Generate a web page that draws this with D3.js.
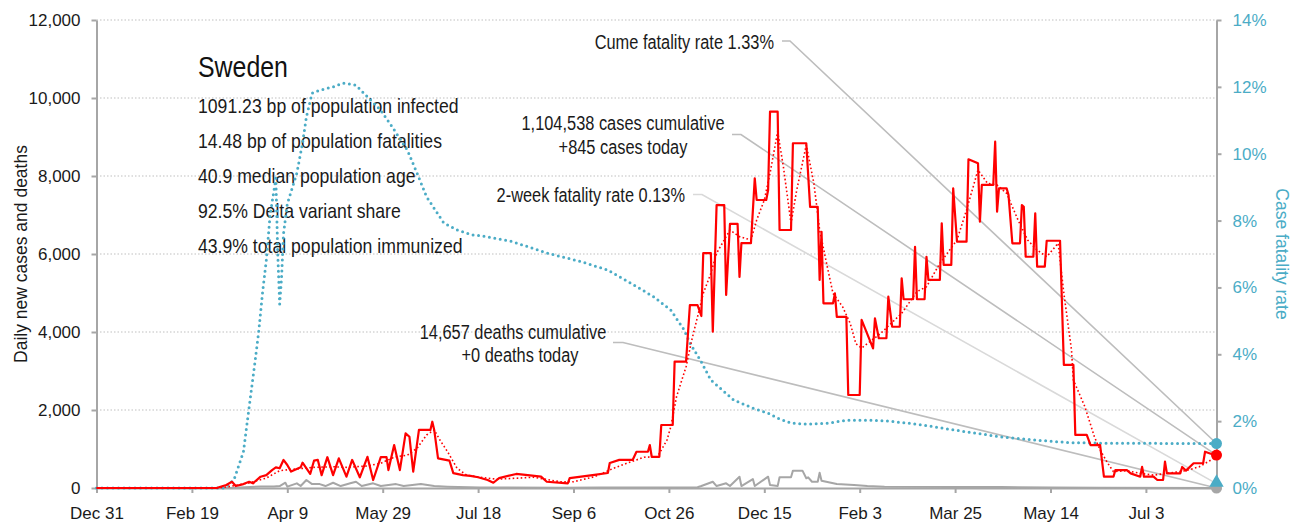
<!DOCTYPE html>
<html>
<head>
<meta charset="utf-8">
<script src="https://cdn.jsdelivr.net/npm/d3@7"></script>
<style>
  html, body { margin: 0; padding: 0; background: #ffffff; }
  svg { display: block; font-family: 'Liberation Sans', Arial, sans-serif; }
</style>
</head>
<body>
<svg id="chart" width="1301" height="527"></svg>
<script>
// ---- Data: Sweden, Dec 31 2019 – Aug 9 2021 ----
const country = "Sweden";
const statLines = [
  "1091.23 bp of population infected",
  "14.48 bp of population fatalities",
  "40.9 median population age",
  "92.5% Delta variant share",
  "43.9% total population immunized"
];

const xTickDates = ["2019-12-31","2020-02-19","2020-04-09","2020-05-29","2020-07-18","2020-09-06",
                    "2020-10-26","2020-12-15","2021-02-03","2021-03-25","2021-05-14","2021-07-03"];
const leftTicks = [0, 2000, 4000, 6000, 8000, 10000, 12000];
const rightTicks = [0, 2, 4, 6, 8, 10, 12, 14];

// Daily new cases
const dailyCases = [
  ["2019-12-31",0],["2020-03-03",0],["2020-03-05",33],["2020-03-08",77],["2020-03-11",160],["2020-03-13",50],
  ["2020-03-17",100],["2020-03-20",160],["2020-03-22",120],["2020-03-26",290],["2020-03-29",330],["2020-04-01",460],
  ["2020-04-03",530],["2020-04-05",505],["2020-04-07",720],["2020-04-09",590],["2020-04-11",420],["2020-04-16",530],
  ["2020-04-17",650],["2020-04-21",360],["2020-04-23",700],["2020-04-25",720],["2020-04-27",330],["2020-04-30",790],
  ["2020-05-03",330],["2020-05-06",760],["2020-05-10",290],["2020-05-13",720],["2020-05-17",275],["2020-05-21",800],
  ["2020-05-24",205],["2020-05-28",790],["2020-05-31",790],["2020-06-01",460],["2020-06-04",1100],["2020-06-07",460],
  ["2020-06-10",1400],["2020-06-12",1315],["2020-06-14",420],["2020-06-17",1490],["2020-06-23",1490],["2020-06-24",1700],
  ["2020-06-25",1490],["2020-06-27",760],["2020-07-01",720],["2020-07-03",700],["2020-07-05",380],["2020-07-10",330],
  ["2020-07-14",310],["2020-07-18",275],["2020-07-23",205],["2020-07-26",135],["2020-07-29",255],["2020-08-07",360],
  ["2020-08-13",330],["2020-08-20",290],["2020-08-23",160],["2020-09-03",120],["2020-09-04",255],["2020-09-10",290],
  ["2020-09-16",330],["2020-09-24",385],["2020-09-25",640],["2020-09-30",720],["2020-10-07",720],["2020-10-09",930],
  ["2020-10-15",930],["2020-10-16",1100],["2020-10-17",800],["2020-10-21",800],["2020-10-22",1615],["2020-10-28",1615],
  ["2020-10-29",3240],["2020-11-04",3240],["2020-11-06",4690],["2020-11-10",4690],["2020-11-12",4410],["2020-11-13",6020],
  ["2020-11-17",6020],["2020-11-18",4010],["2020-11-20",7255],["2020-11-24",7255],["2020-11-25",4950],["2020-11-27",6770],
  ["2020-12-01",6770],["2020-12-02",5410],["2020-12-03",6280],["2020-12-08",6280],["2020-12-10",7940],["2020-12-11",7385],
  ["2020-12-16",7385],["2020-12-17",7640],["2020-12-18",9650],["2020-12-22",9650],["2020-12-23",6615],["2020-12-29",6615],
  ["2020-12-30",8840],["2021-01-06",8840],["2021-01-08",7210],["2021-01-12",7210],["2021-01-13",5335],["2021-01-14",6570],
  ["2021-01-15",4735],["2021-01-20",4735],["2021-01-21",4990],["2021-01-22",4390],["2021-01-27",4390],["2021-01-28",2385],
  ["2021-02-03",2385],["2021-02-04",4310],["2021-02-10",3580],["2021-02-11",4350],["2021-02-13",3840],["2021-02-17",3840],
  ["2021-02-18",4905],["2021-02-20",4135],["2021-02-24",4135],["2021-02-25",5375],["2021-02-26",4840],["2021-03-03",4840],
  ["2021-03-04",6185],["2021-03-05",4840],["2021-03-09",4840],["2021-03-10",5930],["2021-03-11",5335],["2021-03-17",5335],
  ["2021-03-18",6785],["2021-03-19",5720],["2021-03-23",5720],["2021-03-24",7685],["2021-03-26",6315],["2021-03-31",6315],
  ["2021-04-01",8430],["2021-04-06",8325],["2021-04-07",6830],["2021-04-08",7770],["2021-04-14",7770],["2021-04-15",8880],
  ["2021-04-16",7085],["2021-04-17",7685],["2021-04-21",7685],["2021-04-22",7510],["2021-04-24",6275],["2021-04-28",6275],
  ["2021-04-29",7255],["2021-04-30",7210],["2021-05-01",5930],["2021-05-05",5930],["2021-05-06",7045],["2021-05-07",5675],
  ["2021-05-11",5675],["2021-05-12",6340],["2021-05-19",6340],["2021-05-21",3155],["2021-05-26",3155],["2021-05-27",1360],
  ["2021-06-02",1360],["2021-06-04",1100],["2021-06-09",1100],["2021-06-11",290],["2021-06-16",290],["2021-06-17",460],
  ["2021-06-23",460],["2021-06-25",375],["2021-06-30",290],["2021-07-01",540],["2021-07-02",290],["2021-07-07",290],
  ["2021-07-09",205],["2021-07-12",205],["2021-07-13",675],["2021-07-14",375],["2021-07-21",375],["2021-07-22",540],
  ["2021-07-24",445],["2021-07-28",635],["2021-08-02",635],["2021-08-03",930],["2021-08-06",880],["2021-08-09",845]
];

// 7-day average of new cases
const avgCases = [
  ["2019-12-31",0],["2020-03-03",0],["2020-03-08",25],["2020-03-20",130],["2020-03-29",255],["2020-04-05",445],
  ["2020-04-12",480],["2020-04-23",530],["2020-05-03",545],["2020-05-10",530],["2020-05-21",565],["2020-05-28",635],
  ["2020-06-04",790],["2020-06-11",845],["2020-06-16",1020],["2020-06-21",1360],["2020-06-25",1490],["2020-06-28",1230],
  ["2020-07-02",930],["2020-07-07",505],["2020-07-12",330],["2020-07-19",275],["2020-07-28",225],["2020-08-16",275],
  ["2020-08-30",160],["2020-09-06",160],["2020-09-17",290],["2020-09-27",505],["2020-10-04",635],["2020-10-13",790],
  ["2020-10-20",800],["2020-10-25",1230],["2020-10-27",1570],["2020-10-30",2340],["2020-11-04",3110],["2020-11-07",3795],
  ["2020-11-10",4390],["2020-11-13",4990],["2020-11-17",5505],["2020-11-20",6020],["2020-11-24",6360],["2020-11-27",6615],
  ["2020-12-02",6445],["2020-12-08",6360],["2020-12-11",6870],["2020-12-15",7385],["2020-12-18",8070],["2020-12-22",9135],
  ["2020-12-25",8240],["2020-12-29",6785],["2021-01-01",7640],["2021-01-06",8795],["2021-01-10",7810],["2021-01-13",6615],
  ["2021-01-17",5675],["2021-01-20",4990],["2021-01-25",4650],["2021-01-29",4225],["2021-02-01",3700],["2021-02-04",3590],
  ["2021-02-14",3965],["2021-02-25",4480],["2021-03-05",5035],["2021-03-10",5160],["2021-03-17",5760],["2021-03-26",6360],
  ["2021-03-31",7130],["2021-04-06",8155],["2021-04-11",7810],["2021-04-16",7770],["2021-04-21",7555],["2021-04-27",6870],
  ["2021-05-02",6360],["2021-05-07",6100],["2021-05-12",5930],["2021-05-18",6275],["2021-05-21",4990],["2021-05-25",3540],
  ["2021-05-26",2770],["2021-06-01",2085],["2021-06-06",1315],["2021-06-09",975],["2021-06-13",635],["2021-06-16",420],
  ["2021-06-23",445],["2021-06-30",375],["2021-07-07",330],["2021-07-14",375],["2021-07-24",445],["2021-07-31",545],
  ["2021-08-09",800]
];

// Daily new deaths
const dailyDeaths = [
  ["2019-12-31",0],["2020-03-10",0],["2020-03-15",13],["2020-03-26",40],["2020-04-02",40],["2020-04-05",50],
  ["2020-04-08",135],["2020-04-09",35],["2020-04-14",120],["2020-04-16",50],["2020-04-19",205],["2020-04-22",100],
  ["2020-04-26",100],["2020-04-29",50],["2020-05-03",135],["2020-05-07",50],["2020-05-12",120],["2020-05-15",160],
  ["2020-05-18",50],["2020-05-24",120],["2020-05-28",50],["2020-06-05",100],["2020-06-09",50],["2020-06-18",100],
  ["2020-06-25",50],["2020-07-02",35],["2020-07-19",15],["2020-08-30",5],["2020-09-20",10],["2020-10-16",15],
  ["2020-11-10",20],["2020-11-12",50],["2020-11-18",160],["2020-11-20",50],["2020-11-25",120],["2020-11-27",50],
  ["2020-12-02",290],["2020-12-03",50],["2020-12-09",230],["2020-12-10",50],["2020-12-17",290],["2020-12-18",75],
  ["2020-12-22",50],["2020-12-23",275],["2020-12-29",275],["2020-12-30",445],["2021-01-04",445],["2021-01-06",250],
  ["2021-01-07",275],["2021-01-09",160],["2021-01-12",160],["2021-01-13",390],["2021-01-14",185],["2021-01-22",100],
  ["2021-01-31",75],["2021-02-07",50],["2021-02-16",35],["2021-03-23",25],["2021-04-18",25],["2021-05-14",15],
  ["2021-06-09",8],["2021-08-09",0]
];

// Cumulative case fatality rate, percent
const fatalityRate = [
  ["2019-12-31",0],["2020-03-07",0],["2020-03-12",0.24],["2020-03-17",1.08],["2020-03-20",2.42],["2020-03-23",3.74],
  ["2020-03-25",4.67],["2020-03-27",5.83],["2020-03-29",6.82],["2020-03-31",8.17],["2020-04-03",9.27],["2020-04-04",7.0],
  ["2020-04-05",5.5],["2020-04-06",6.3],["2020-04-07",7.6],["2020-04-09",8.5],["2020-04-14",9.42],["2020-04-17",10.32],
  ["2020-04-19",11.1],["2020-04-22",11.81],["2020-04-26",11.9],["2020-05-03",12.0],["2020-05-08",12.11],["2020-05-12",12.08],
  ["2020-05-15",12.05],["2020-05-21",11.7],["2020-05-28",11.3],["2020-06-03",10.8],["2020-06-11",10.1],["2020-06-16",9.42],
  ["2020-06-21",8.71],["2020-06-30",7.93],["2020-07-07",7.72],["2020-07-15",7.57],["2020-07-19",7.55],["2020-08-05",7.37],
  ["2020-08-23",7.03],["2020-09-10",6.77],["2020-09-24",6.52],["2020-10-06",6.13],["2020-10-18",5.72],["2020-10-27",5.32],
  ["2020-11-03",4.73],["2020-11-06",4.34],["2020-11-12",3.77],["2020-11-17",3.23],["2020-11-29",2.63],["2020-12-09",2.39],
  ["2020-12-17",2.24],["2020-12-22",2.09],["2020-12-29",1.94],["2021-01-07",1.91],["2021-01-17",1.94],["2021-01-28",2.03],
  ["2021-02-07",2.03],["2021-02-18",2.0],["2021-03-05",1.91],["2021-03-14",1.83],["2021-03-31",1.68],["2021-04-18",1.53],
  ["2021-05-05",1.44],["2021-05-23",1.36],["2021-06-09",1.34],["2021-08-09",1.33]
];

// Latest-day figures shown in the callouts
const cumeFatalityRate = 1.33;
const casesCumulative = 1104538;
const casesToday = 845;
const twoWeekFatalityRate = 0.13;
const deathsCumulative = 14657;
const deathsToday = 0;

// ---- Drawing ----
const parse = d3.timeParse("%Y-%m-%d");
const svg = d3.select("#chart");
const plot = { left: 96.5, right: 1216.5, top: 20, bottom: 488 };

const startDate = parse(dailyCases[0][0]);
const endDate = parse(dailyCases[dailyCases.length - 1][0]);

const x = d3.scaleTime().domain([startDate, endDate]).range([plot.left, plot.right]);
const y = d3.scaleLinear().domain([0, 12000]).range([plot.bottom, plot.top]);
const yR = d3.scaleLinear().domain([0, 14]).range([plot.bottom, plot.top]);

const AXIS_GREY = "#a6a6a6";
const BLUE = "#4bacc6";
const RED = "#ff0000";
const INK = "#1a1a1a";

// condensed-looking text: regular face squeezed horizontally about its anchor
function condensed(parent, tx, ty, size, squeeze, anchor, str, fill) {
  return parent.append("text")
    .attr("transform", `translate(${tx},${ty}) scale(${squeeze},1)`)
    .attr("font-size", size)
    .attr("text-anchor", anchor)
    .attr("fill", fill || INK)
    .text(str);
}

// horizontal dotted gridlines
svg.append("g")
  .selectAll("line")
  .data(leftTicks.filter(d => d > 0))
  .join("line")
  .attr("x1", plot.left).attr("x2", plot.right)
  .attr("y1", d => y(d)).attr("y2", d => y(d))
  .attr("stroke", "#bfbfbf").attr("stroke-width", 1)
  .attr("stroke-dasharray", "1.5,2");

// axes
const gL = svg.append("g")
  .attr("transform", `translate(${plot.left},0)`)
  .call(d3.axisLeft(y).tickValues(leftTicks).tickFormat(d3.format(",")).tickSize(5).tickSizeOuter(0).tickPadding(11));
const gR = svg.append("g")
  .attr("transform", `translate(${plot.right},0)`)
  .call(d3.axisRight(yR).tickValues(rightTicks).tickFormat(d => d + "%").tickSize(5).tickSizeOuter(0).tickPadding(11));
const gB = svg.append("g")
  .attr("transform", `translate(0,${plot.bottom})`)
  .call(d3.axisBottom(x).tickValues(xTickDates.map(parse)).tickFormat(d3.timeFormat("%b %-d"))
        .tickSize(5).tickSizeOuter(0).tickPadding(14));

[gL, gR, gB].forEach(g => {
  g.select(".domain").attr("stroke", AXIS_GREY).attr("stroke-width", 2);
  g.selectAll(".tick line").attr("stroke", AXIS_GREY).attr("stroke-width", 2);
  g.selectAll(".tick text").attr("font-size", 17).attr("fill", INK)
    .attr("font-family", "'Liberation Sans', Arial, sans-serif");
});
gR.selectAll(".tick text").attr("fill", BLUE);

// axis titles
svg.append("text")
  .attr("transform", `translate(27,${(plot.top + plot.bottom) / 2}) rotate(-90)`)
  .attr("text-anchor", "middle").attr("font-size", 17.5).attr("fill", INK)
  .text("Daily new cases and deaths");
svg.append("text")
  .attr("transform", `translate(1276,${(plot.top + plot.bottom) / 2}) rotate(90)`)
  .attr("text-anchor", "middle").attr("font-size", 17.5).attr("fill", BLUE)
  .text("Case fatality rate");

// country title and key statistics
condensed(svg, 198, 77, 30, 0.83, "start", country, "#111");
const stats = svg.append("g");
statLines.forEach((s, i) => condensed(stats, 198, 113 + i * 35, 20.5, 0.86, "start", s));

// end-of-series marker positions
const xEnd = x(endDate);
const endCume = [xEnd, yR(cumeFatalityRate)];
const endCases = [xEnd, y(casesToday)];
const endTwoWeek = [xEnd, yR(twoWeekFatalityRate)];
const endDeaths = [xEnd, y(deathsToday)];

// callout leader lines
const leaders = [
  { pts: [[782, 41], [790, 41], endCume], color: "#bdbdbd" },
  { pts: [[732, 134.5], [741, 134.5], endCases], color: "#bdbdbd" },
  { pts: [[693, 194.5], [702, 194.5], endTwoWeek], color: "#d9d9d9" },
  { pts: [[613, 342.5], [623, 342.5], endDeaths], color: "#bdbdbd" }
];
svg.append("g").selectAll("path").data(leaders).join("path")
  .attr("d", d => d3.line()(d.pts))
  .attr("fill", "none").attr("stroke", d => d.color).attr("stroke-width", 1.6);

// callout texts
const fmt = d3.format(",");
const callouts = svg.append("g");
const CS = 21, SQ = 0.78;
condensed(callouts, 774, 48.5, CS, SQ, "end", `Cume fatality rate ${cumeFatalityRate.toFixed(2)}%`);
condensed(callouts, 623, 130, CS, SQ, "middle", `${fmt(casesCumulative)} cases cumulative`);
condensed(callouts, 623, 153.5, CS, SQ, "middle", `+${fmt(casesToday)} cases today`);
condensed(callouts, 685, 201.5, CS, SQ, "end", `2-week fatality rate ${twoWeekFatalityRate.toFixed(2)}%`);
condensed(callouts, 513, 339, CS, SQ, "middle", `${fmt(deathsCumulative)} deaths cumulative`);
condensed(callouts, 520, 362, CS, SQ, "middle", `+${fmt(deathsToday)} deaths today`);

// series
const lineL = d3.line().x(d => x(parse(d[0]))).y(d => y(d[1]));
const lineR = d3.line().x(d => x(parse(d[0]))).y(d => yR(d[1]));

svg.append("path").datum(dailyDeaths).attr("d", lineL)
  .attr("fill", "none").attr("stroke", AXIS_GREY).attr("stroke-width", 2).attr("stroke-linejoin", "round");

svg.append("path").datum(fatalityRate).attr("d", lineR)
  .attr("fill", "none").attr("stroke", BLUE).attr("stroke-width", 3)
  .attr("stroke-linecap", "round").attr("stroke-dasharray", "0,5.5");

svg.append("path").datum(avgCases).attr("d", lineL)
  .attr("fill", "none").attr("stroke", RED).attr("stroke-width", 1.6)
  .attr("stroke-dasharray", "1.6,2.4");

svg.append("path").datum(dailyCases).attr("d", lineL)
  .attr("fill", "none").attr("stroke", RED).attr("stroke-width", 2.2).attr("stroke-linejoin", "round");

// end markers
svg.append("circle").attr("cx", endDeaths[0]).attr("cy", endDeaths[1]).attr("r", 5.5).attr("fill", AXIS_GREY);
svg.append("path")
  .attr("d", d3.symbol(d3.symbolTriangle, 90)())
  .attr("transform", `translate(${endTwoWeek[0]},${endTwoWeek[1] - 1})`)
  .attr("fill", BLUE);
svg.append("circle").attr("cx", endCases[0]).attr("cy", endCases[1]).attr("r", 5.5).attr("fill", RED);
svg.append("circle").attr("cx", endCume[0]).attr("cy", endCume[1]).attr("r", 5.5).attr("fill", BLUE);
</script>
</body>
</html>
